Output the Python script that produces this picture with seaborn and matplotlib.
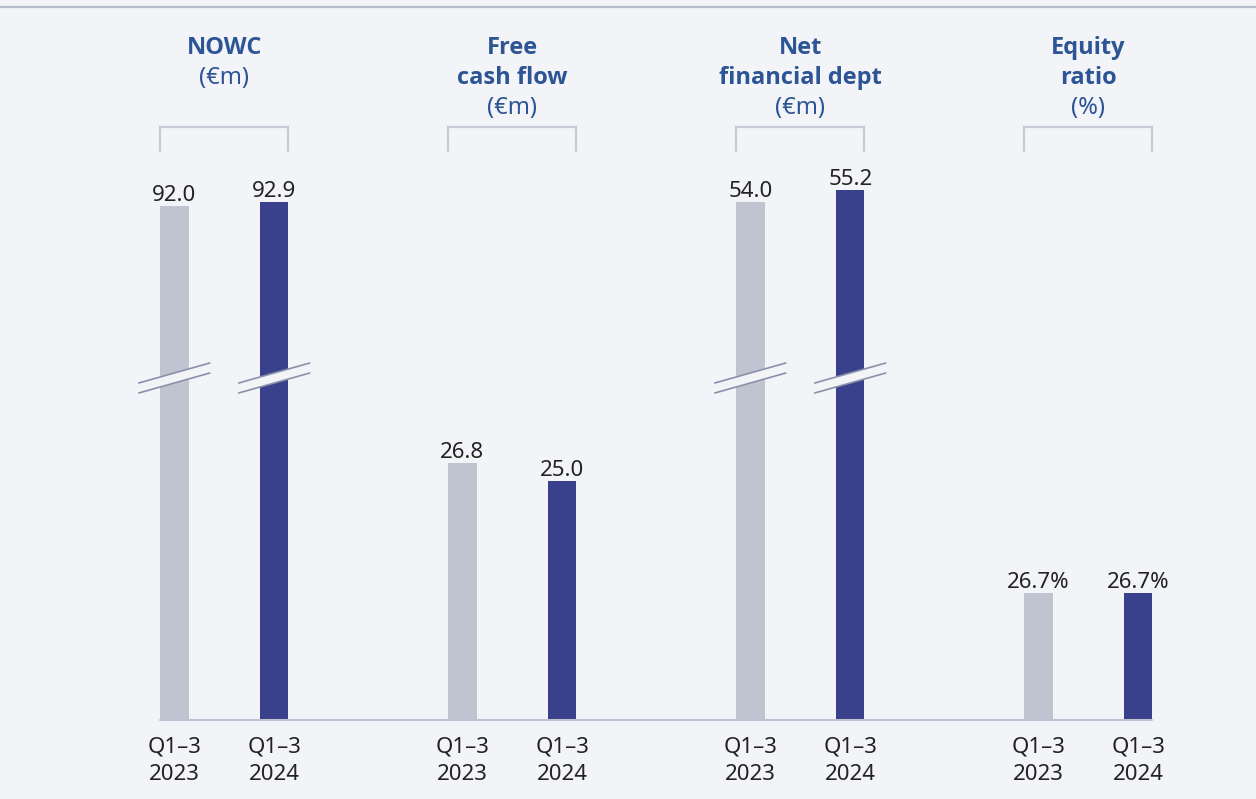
import matplotlib
matplotlib.use("Agg")
import matplotlib.pyplot as plt
from matplotlib.lines import Line2D
from matplotlib.patches import Polygon
from matplotlib import font_manager
import seaborn as sns
import pandas as pd

# ---- data ----
metrics = ["NOWC", "Free cash flow", "Net financial dept", "Equity ratio"]
title_lines = [["NOWC"], ["Free", "cash flow"], ["Net", "financial dept"], ["Equity", "ratio"]]
units = ["(€m)", "(€m)", "(€m)", "(%)"]
periods = ["Q1–3\n2023", "Q1–3\n2024"]
values_2023 = [92.0, 26.8, 54.0, 26.7]
values_2024 = [92.9, 25.0, 55.2, 26.7]
# bar heights as drawn in the chart (axis is broken for NOWC and net financial debt)
drawn_2023 = [514, 257, 518, 127]
drawn_2024 = [518, 239, 530, 127]
label_suffix = ["", "", "", "%"]
broken_axis = [True, False, True, False]

# ---- style ----
bg = "#f2f4f8"
gray = "#c0c3d0"
navy = "#3a418c"
title_blue = "#2d5596"
text_dark = "#222222"
break_col = "#8a90aa"
bracket_col = "#c9ccd6"

sns.set_theme(style="white")
plt.rcParams["font.family"] = ["Noto Sans", "DejaVu Sans"]

# pick a family that really has a bold face for the titles
bold_family = ["DejaVu Sans"]
for fam in ["Noto Sans", "Open Sans", "Lato", "Roboto"]:
    try:
        fp = font_manager.findfont(font_manager.FontProperties(family=fam, weight="bold"),
                                   fallback_to_default=False)
        if "bold" in fp.lower() or "black" in fp.lower() or "heavy" in fp.lower():
            bold_family = [fam, "DejaVu Sans"]
            break
    except Exception:
        pass

df = pd.DataFrame({
    "metric": metrics * 2,
    "period": [periods[0]] * 4 + [periods[1]] * 4,
    "height": drawn_2023 + drawn_2024,
    "value": values_2023 + values_2024,
})

W, H = 1256, 799
fig = plt.figure(figsize=(W / 100, H / 100), dpi=100, facecolor=bg)
ax = fig.add_axes([0, 79 / H, 1, 720 / H])
ax.set_facecolor(bg)

sns.barplot(data=df, x="metric", y="height", hue="period", order=metrics,
            hue_order=periods, palette=[gray, navy], width=0.694, gap=0.715,
            saturation=1, legend=False, ax=ax, linewidth=0)

unit = 288.0
ax.set_xlim(-224.25 / unit, (W - 224.25) / unit)
ax.set_ylim(0, 720)
for s in ax.spines.values():
    s.set_visible(False)
ax.set_xticks([])
ax.set_yticks([])
ax.set_xlabel("")
ax.set_ylabel("")

vals = [values_2023, values_2024]
bars_by_period = []
for ci, cont in enumerate(ax.containers):
    labels = [f"{v:.1f}{label_suffix[i]}" for i, v in enumerate(vals[ci])]
    ax.bar_label(cont, labels=labels, padding=0, fontsize=16, color=text_dark)
    bars_by_period.append(list(cont.patches))

# baseline
all_bars = bars_by_period[0] + bars_by_period[1]
xmin = min(b.get_x() for b in all_bars)
xmax = max(b.get_x() + b.get_width() for b in all_bars)
ax.plot([xmin, xmax], [0, 0], color=gray, lw=1.5, clip_on=False, zorder=3)

for i in range(len(metrics)):
    b1 = bars_by_period[0][i]
    b2 = bars_by_period[1][i]
    cx = (b1.get_x() + b2.get_x() + b2.get_width()) / 2
    # titles
    lines = title_lines[i]
    for k, ln in enumerate(lines):
        ax.text(cx, 666 - 30 * k, ln, ha="center", va="baseline", fontsize=17,
                fontweight="bold", family=bold_family, color=title_blue, clip_on=False)
    ax.text(cx, 666 - 30 * len(lines), units[i], ha="center", va="baseline",
            fontsize=17, color=title_blue, clip_on=False)
    # bracket
    lx = b1.get_x()
    rx = b2.get_x() + b2.get_width()
    ax.plot([lx, lx, rx, rx], [569, 593, 593, 569], color=bracket_col, lw=1.6,
            solid_joinstyle="miter", clip_on=False)
    # tick labels
    for b, p in zip((b1, b2), periods):
        bx = b.get_x() + b.get_width() / 2
        l1, l2 = p.split("\n")
        ax.text(bx, -32, l1, ha="center", va="baseline", fontsize=16,
                color=text_dark, clip_on=False)
        ax.text(bx, -60, l2, ha="center", va="baseline", fontsize=16,
                color=text_dark, clip_on=False)
    # axis break marks
    if broken_axis[i]:
        hw = 35.5 / unit
        for b in (b1, b2):
            bx = b.get_x() + b.get_width() / 2
            up, lo = 347, 337
            poly = Polygon([(bx - hw, lo - 10), (bx + hw, lo + 10),
                            (bx + hw, up + 10), (bx - hw, up - 10)],
                           closed=True, facecolor=bg, edgecolor="none", zorder=4)
            ax.add_patch(poly)
            for yl in (up, lo):
                ax.plot([bx - hw, bx + hw], [yl - 10, yl + 10], color=break_col,
                        lw=1.2, zorder=5)

# top rule
fig.add_artist(Line2D([0, 1], [1 - 7 / H, 1 - 7 / H], transform=fig.transFigure,
                      color="#b8bdcc", lw=1.6))

fig.savefig("out.png", dpi=100, facecolor=bg)
